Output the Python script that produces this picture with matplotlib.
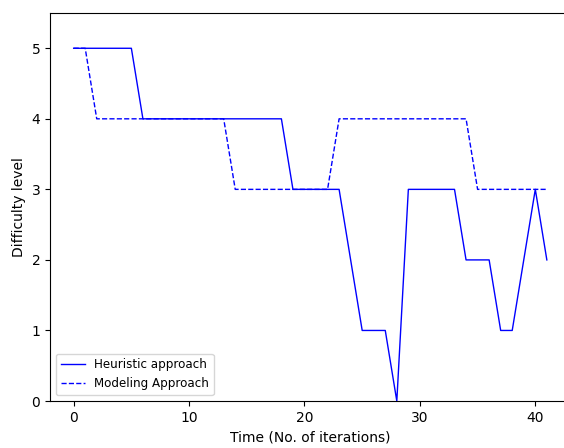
import matplotlib
matplotlib.use("Agg")
import matplotlib.pyplot as plt

iterations = list(range(42))
heuristic = [5, 5, 5, 5, 5, 5,
             4, 4, 4, 4, 4, 4, 4, 4, 4, 4, 4, 4, 4,
             3, 3, 3, 3, 3,
             2,
             1, 1, 1,
             0,
             3, 3, 3, 3, 3,
             2, 2, 2,
             1, 1,
             2, 3, 2]
modeling = [5, 5,
            4, 4, 4, 4, 4, 4, 4, 4, 4, 4, 4, 4,
            3, 3, 3, 3, 3, 3, 3, 3, 3,
            4, 4, 4, 4, 4, 4, 4, 4, 4, 4, 4, 4,
            3, 3, 3, 3, 3, 3, 3]

fig = plt.figure(figsize=(5.64, 4.48), dpi=100)
ax = fig.add_axes([50/564, 47/448, 520.5/564, 388/448])
ax.plot(iterations, heuristic, color="blue", lw=1, label="Heuristic approach")
ax.plot(iterations, modeling, color="blue", lw=1, ls="--", label="Modeling Approach")
ax.set_ylim(0, 5.5)
ax.set_xticks([0, 10, 20, 30, 40])
ax.set_yticks([0, 1, 2, 3, 4, 5])
ax.set_xlabel("Time (No. of iterations)")
ax.set_ylabel("Difficulty level")
ax.legend(loc="lower left", fontsize=8.6)
fig.savefig("out.png", dpi=100)
